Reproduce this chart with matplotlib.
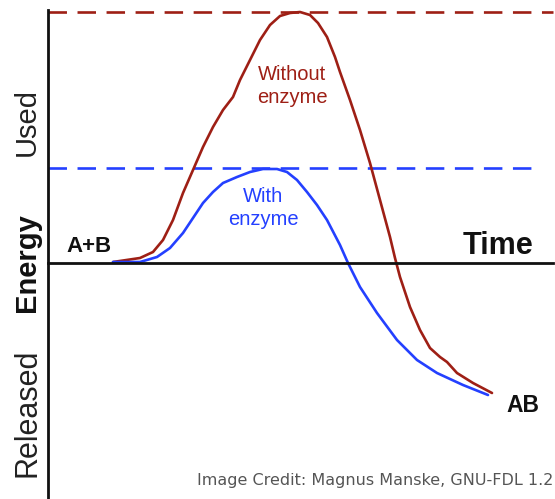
import numpy as np
import matplotlib
matplotlib.use("Agg")
import matplotlib.pyplot as plt

# energy profile (time, energy; A+B level = 0)
red_t = [65, 92, 105, 115, 125, 135, 145, 155, 165, 175, 185, 192, 202, 212, 222, 232, 242, 252, 262,
         270, 279, 287, 292, 302, 312, 322, 332, 342, 347, 352, 362, 372, 382, 392, 399, 409, 425, 444]
red_e = [1, 5, 11, 23, 43, 70, 93, 116, 136, 153, 166, 183, 203, 223, 238, 247, 250, 251, 248,
         240, 226, 206, 191, 163, 133, 100, 63, 26, 5, -14, -44, -67, -85, -94, -99, -110, -120, -130]

blue_t = [65, 92, 109, 122, 135, 145, 155, 165, 175, 189, 202, 215, 229, 239, 249, 259, 269, 279,
          292, 300, 312, 329, 349, 369, 389, 415, 440]
blue_e = [1, 1, 6, 15, 30, 45, 60, 71, 80, 86, 91, 94, 94, 91, 83, 71, 58, 43,
          18, 0, -24, -50, -77, -97, -110, -122, -132]

red_peak = 251
blue_peak = 95

RED = "#9e1f15"
BLUE = "#2440ff"

plt.rcParams['font.family'] = ['Liberation Sans', 'DejaVu Sans']

fig = plt.figure(figsize=(5.55, 4.99), dpi=100)
ax = fig.add_axes([0, 0, 1, 1])
ax.set_xlim(-48, 507)
ax.set_ylim(-236, 263)

# axes drawn as spines through the origin
for s in ['top', 'right']:
    ax.spines[s].set_visible(False)
ax.spines['left'].set_position(('data', 0))
ax.spines['bottom'].set_position(('data', 0))
ax.spines['left'].set_bounds(-236, red_peak + 2)
ax.spines['bottom'].set_bounds(0, 505)
for s in ['left', 'bottom']:
    ax.spines[s].set_linewidth(2.0)
    ax.spines[s].set_color('#111111')
ax.set_xticks([])
ax.set_yticks([])
ax.patch.set_alpha(0)

# activation energy levels
ax.hlines(red_peak, 0, 505, colors=RED, lw=1.9, linestyles=(0, (7, 4)))
ax.hlines(blue_peak, 0, 492, colors=BLUE, lw=1.9, linestyles=(0, (7, 4)))

ax.plot(red_t, red_e, color=RED, lw=1.9, solid_joinstyle='round', solid_capstyle='round')
ax.plot(blue_t, blue_e, color=BLUE, lw=1.9, solid_joinstyle='round', solid_capstyle='round')

# labels
ax.text(-21, 141, "Used", rotation=90, ha='center', va='center', fontsize=21, color='#222222')
ax.text(-21, 0, "Energy", rotation=90, ha='center', va='center', fontsize=21,
        fontweight='bold', color='#111111')
ax.text(-21, -150, "Released", rotation=90, ha='center', va='center', fontsize=22, color='#222222')

ax.text(41, 16, "A+B", ha='center', va='center', fontsize=16, fontweight='bold', color='#111111')
ax.text(450, 17, "Time", ha='center', va='center', fontsize=22, fontweight='bold', color='#111111')
ax.text(475, -143, "AB", ha='center', va='center', fontsize=16.5, fontweight='bold', color='#111111')

ax.text(244, 177, "Without\nenzyme", ha='center', va='center', fontsize=14.5, color=RED,
        linespacing=1.3)
ax.text(215, 55, "With\nenzyme", ha='center', va='center', fontsize=14.5, color=BLUE,
        linespacing=1.3)

fig.text(0.997, 0.038, "Image Credit: Magnus Manske, GNU-FDL 1.2", ha='right', va='center',
         fontsize=11.5, color='#555555', family='DejaVu Sans')

fig.savefig("out.png", dpi=100)
